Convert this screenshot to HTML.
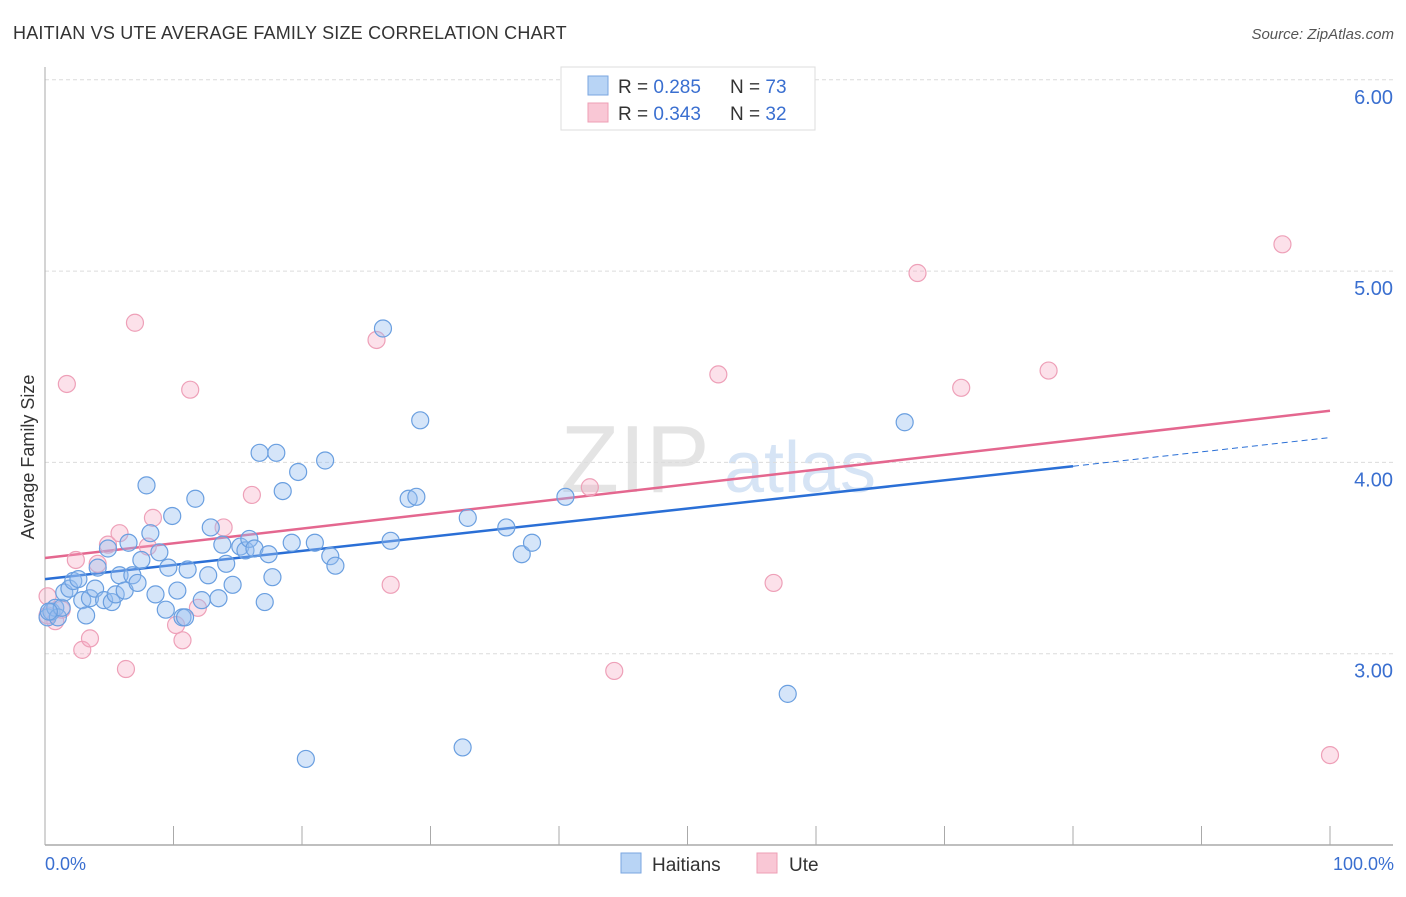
<!DOCTYPE html>
<html><head><meta charset="utf-8"><style>
body{margin:0;background:#fff;font-family:"Liberation Sans",sans-serif;}
svg text{font-family:"Liberation Sans",sans-serif;}
</style></head><body>
<svg id="chart" width="1406" height="892" xmlns="http://www.w3.org/2000/svg">
<text x="13" y="39" font-size="18" fill="#333" letter-spacing="0.2">HAITIAN VS UTE AVERAGE FAMILY SIZE CORRELATION CHART</text>
<text x="1394" y="39" font-size="15" fill="#555" font-style="italic" text-anchor="end">Source: ZipAtlas.com</text>
<text x="0" y="0" transform="translate(34,457) rotate(-90)" font-size="18" fill="#333" text-anchor="middle">Average Family Size</text>
<text x="635" y="492" font-size="96" fill="#e4e4e4" font-family="Liberation Serif" text-anchor="middle">ZIP</text>
<text x="800" y="492" font-size="72" fill="#d6e4f5" text-anchor="middle">atlas</text>
<g id="grid"></g><g id="axes"></g><g id="lines"></g><g id="pts"></g>
<g>
<rect x="561" y="67" width="254" height="63" fill="#fff" stroke="#ddd"/>
<rect x="588" y="76" width="20" height="19" fill="#b8d4f5" stroke="#7aa6e0"/>
<rect x="588" y="103" width="20" height="19" fill="#f9c7d5" stroke="#ee9fb5"/>
<text x="618" y="93" font-size="19" fill="#333">R = <tspan fill="#3a6fd0">0.285</tspan></text>
<text x="730" y="93" font-size="19" fill="#333">N = <tspan fill="#3a6fd0">73</tspan></text>
<text x="618" y="120" font-size="19" fill="#333">R = <tspan fill="#3a6fd0">0.343</tspan></text>
<text x="730" y="120" font-size="19" fill="#333">N = <tspan fill="#3a6fd0">32</tspan></text>
</g>
<text x="45" y="870" font-size="18" fill="#3a6fd0">0.0%</text>
<text x="1394" y="870" font-size="18" fill="#3a6fd0" text-anchor="end">100.0%</text>
<rect x="621" y="853" width="20" height="20" fill="#b8d4f5" stroke="#7aa6e0"/>
<text x="652" y="871" font-size="19" fill="#333">Haitians</text>
<rect x="757" y="853" width="20" height="20" fill="#f9c7d5" stroke="#ee9fb5"/>
<text x="789" y="871" font-size="19" fill="#333">Ute</text>
</svg>
<script>
const yTicks=[3,4,5,6];
const yTickLabels=["3.00","4.00","5.00","6.00"];
const haitiansX=[0.2,0.5,0.8,1,1.3,1.5,1.9,2.2,2.6,2.9,3.2,3.5,3.9,4.1,4.6,4.9,5.2,5.5,5.8,6.2,6.5,6.8,7.2,7.5,7.9,8.2,8.6,8.9,9.4,9.6,9.9,10.3,10.7,10.9,11.1,11.7,12.2,12.7,12.9,13.5,13.8,14.1,14.6,15.2,15.6,15.9,16.3,16.7,17.1,17.4,17.7,18,18.5,19.2,19.7,21,21.8,22.2,22.6,20.3,26.3,26.9,28.3,28.9,29.2,32.5,32.9,35.9,37.1,37.9,40.5,57.8,66.9,0.3];
const haitiansY=[3.19,3.22,3.24,3.19,3.24,3.32,3.34,3.38,3.39,3.28,3.2,3.29,3.34,3.45,3.28,3.55,3.27,3.31,3.41,3.33,3.58,3.41,3.37,3.49,3.88,3.63,3.31,3.53,3.23,3.45,3.72,3.33,3.19,3.19,3.44,3.81,3.28,3.41,3.66,3.29,3.57,3.47,3.36,3.56,3.54,3.6,3.55,4.05,3.27,3.52,3.4,4.05,3.85,3.58,3.95,3.58,4.01,3.51,3.46,2.45,4.7,3.59,3.81,3.82,4.22,2.51,3.71,3.66,3.52,3.58,3.82,2.79,4.21,3.22];
const uteX=[0.2,0.8,1.3,1.7,2.4,2.9,3.5,4.1,4.9,5.8,6.3,7,8,8.4,10.2,10.7,11.3,11.9,13.9,16.1,25.8,26.9,42.4,44.3,52.4,56.7,67.9,71.3,78.1,96.3,100,0.2];
const uteY=[3.3,3.17,3.23,4.41,3.49,3.02,3.08,3.47,3.57,3.63,2.92,4.73,3.56,3.71,3.15,3.07,4.38,3.24,3.66,3.83,4.64,3.36,3.87,2.91,4.46,3.37,4.99,4.39,4.48,5.14,2.47,3.2];
const haitiansTrend=[3.39,3.98,4.13]; // at x=0, 80, 100
const uteTrend=[3.5,4.27]; // at x=0,100
const X=v=>45+v*12.85, Y=v=>845-(v-2)*191.3;
const ns="http://www.w3.org/2000/svg";
function mk(parent,tag,attrs){const e=document.createElementNS(ns,tag);for(const k in attrs)e.setAttribute(k,attrs[k]);document.getElementById(parent).appendChild(e);return e;}
yTicks.forEach((t,i)=>{
 const l=mk('grid','line',{x1:45,x2:1393,y1:Y(t),y2:Y(t),stroke:'#dcdcdc','stroke-dasharray':'4,3'});
 
 
 const tx=mk('grid','text',{x:1393,y:Y(t)+24,'font-size':20,fill:'#3a6fd0','text-anchor':'end'});
 tx.textContent=yTickLabels[i];
 
 
});
const ya=mk('axes','line',{x1:45,x2:45,y1:67,y2:845,stroke:'#aaa'});


const xa=mk('axes','line',{x1:45,x2:1393,y1:845,y2:845,stroke:'#aaa','stroke-width':1.5});


for(let i=0;i<=10;i++){const t=mk('axes','line',{x1:X(i*10),x2:X(i*10),y1:826,y2:845,stroke:'#aaa'});
 
 }
function dot(x,y,fill,stroke,name){const c=mk('pts','circle',{cx:X(x),cy:Y(y),r:8.5,fill:fill,stroke:stroke,'stroke-width':1.2});
 
 }
uteX.forEach((x,i)=>dot(x,uteY[i],'rgba(246,170,195,0.35)','#eea0b8','ute-point'));
haitiansX.forEach((x,i)=>dot(x,haitiansY[i],'rgba(150,190,240,0.4)','#6a9fe0','haitians-point'));
const b1=mk('lines','line',{x1:X(0),y1:Y(haitiansTrend[0]),x2:X(80),y2:Y(haitiansTrend[1]),stroke:'#2a6fd6','stroke-width':2.5});


const b2=mk('lines','line',{x1:X(80),y1:Y(haitiansTrend[1]),x2:X(100),y2:Y(haitiansTrend[2]),stroke:'#2a6fd6','stroke-width':1,'stroke-dasharray':'6,4'});


const p1=mk('lines','line',{x1:X(0),y1:Y(uteTrend[0]),x2:X(100),y2:Y(uteTrend[1]),stroke:'#e4678f','stroke-width':2.5});


</script>
</body></html>
